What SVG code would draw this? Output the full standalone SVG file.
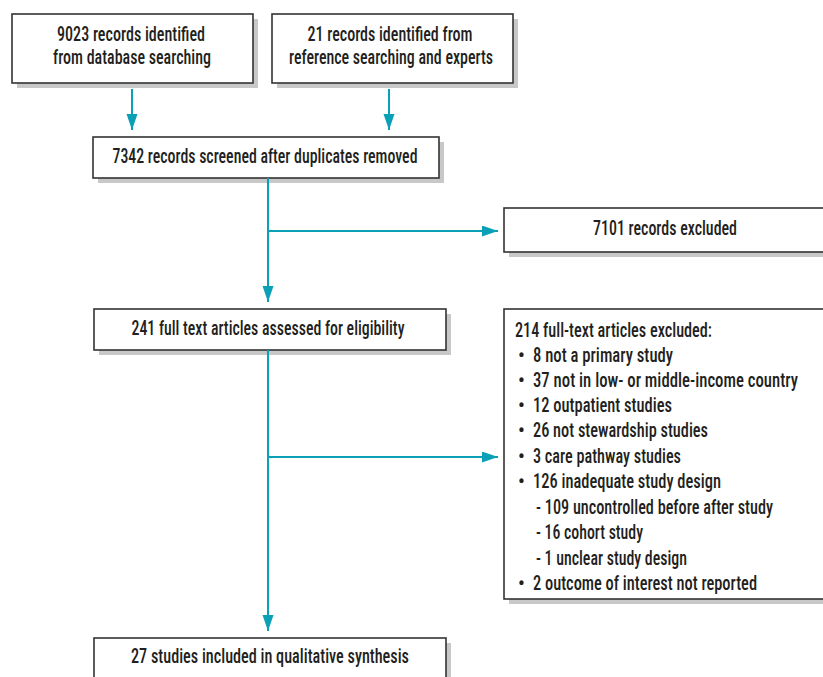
<svg xmlns="http://www.w3.org/2000/svg" width="823" height="677" viewBox="0 0 823 677">
<defs>
<style>
.box{fill:#ffffff;stroke:#333333;stroke-width:1.6}
.sh{fill:#c8c8c8}
.t{font-family:"Liberation Sans Narrow","Roboto Condensed","DejaVu Sans Condensed","Liberation Sans",sans-serif;font-weight:500;font-size:19.5px;fill:#231f20}
.c{text-anchor:middle}
.ln{stroke:#0aa0b6;stroke-width:2;fill:none}
</style>
<marker id="ah" markerUnits="userSpaceOnUse" markerWidth="17" markerHeight="12" refX="16" refY="5.5" orient="auto">
<path d="M0,0 L16,5.5 L0,11 Z" fill="#0aa0b6"/>
</marker>
</defs>
<rect width="823" height="677" fill="#ffffff"/>

<g id="n1">
<rect class="sh" x="17" y="19" width="241" height="69"/>
<rect class="box" x="12" y="14" width="241" height="69"/>
<text class="t c" x="131" y="41" textLength="148" lengthAdjust="spacingAndGlyphs">9023 records identified</text>
<text class="t c" x="132" y="64" textLength="158" lengthAdjust="spacingAndGlyphs">from database searching</text>
</g>

<g id="n2">
<rect class="sh" x="277" y="19" width="241" height="69"/>
<rect class="box" x="272" y="14" width="241" height="69"/>
<text class="t c" x="390" y="41" textLength="165" lengthAdjust="spacingAndGlyphs">21 records identified from</text>
<text class="t c" x="391" y="64" textLength="204" lengthAdjust="spacingAndGlyphs">reference searching and experts</text>
</g>

<g id="n3">
<rect class="sh" x="98" y="142" width="346" height="41"/>
<rect class="box" x="93" y="137" width="346" height="41"/>
<text class="t c" x="265" y="163" textLength="305" lengthAdjust="spacingAndGlyphs">7342 records screened after duplicates removed</text>
</g>

<g id="n4">
<rect class="sh" x="509" y="213" width="314" height="44"/>
<rect class="box" x="504" y="208" width="320" height="44"/>
<text class="t c" x="665" y="235" textLength="144" lengthAdjust="spacingAndGlyphs">7101 records excluded</text>
</g>

<g id="n5">
<rect class="sh" x="99" y="314" width="352" height="41"/>
<rect class="box" x="94" y="309" width="352" height="41"/>
<text class="t c" x="268" y="335" textLength="273" lengthAdjust="spacingAndGlyphs">241 full text articles assessed for eligibility</text>
</g>

<g id="n6">
<rect class="sh" x="509" y="314" width="314" height="290"/>
<rect class="box" x="504" y="309" width="320" height="290"/>
<text class="t" x="515" y="337" textLength="197" lengthAdjust="spacingAndGlyphs">214 full-text articles excluded:</text>
<text class="t" x="518" y="362">•</text>
<text class="t" x="533" y="362" textLength="140" lengthAdjust="spacingAndGlyphs">8 not a primary study</text>
<text class="t" x="518" y="387">•</text>
<text class="t" x="533" y="387" textLength="265" lengthAdjust="spacingAndGlyphs">37 not in low- or middle-income country</text>
<text class="t" x="518" y="412">•</text>
<text class="t" x="533" y="412" textLength="139" lengthAdjust="spacingAndGlyphs">12 outpatient studies</text>
<text class="t" x="518" y="437">•</text>
<text class="t" x="533" y="437" textLength="175" lengthAdjust="spacingAndGlyphs">26 not stewardship studies</text>
<text class="t" x="518" y="463">•</text>
<text class="t" x="533" y="463" textLength="148" lengthAdjust="spacingAndGlyphs">3 care pathway studies</text>
<text class="t" x="518" y="488">•</text>
<text class="t" x="533" y="488" textLength="188" lengthAdjust="spacingAndGlyphs">126 inadequate study design</text>
<text class="t" x="536" y="514" textLength="237" lengthAdjust="spacingAndGlyphs">- 109 uncontrolled before  after study</text>
<text class="t" x="536" y="539" textLength="107" lengthAdjust="spacingAndGlyphs">- 16 cohort study</text>
<text class="t" x="536" y="565" textLength="151" lengthAdjust="spacingAndGlyphs">- 1 unclear study design</text>
<text class="t" x="518" y="590">•</text>
<text class="t" x="533" y="590" textLength="224" lengthAdjust="spacingAndGlyphs">2 outcome of interest not reported</text>
</g>

<g id="n7">
<rect class="sh" x="99" y="643" width="352" height="34"/>
<rect class="box" x="94" y="638" width="352" height="50"/>
<text class="t c" x="270" y="663" textLength="278" lengthAdjust="spacingAndGlyphs">27 studies included in qualitative synthesis</text>
</g>

<g id="connectors">
<line class="ln" x1="132" y1="89" x2="132" y2="130" marker-end="url(#ah)"/>
<line class="ln" x1="389" y1="89" x2="389" y2="130" marker-end="url(#ah)"/>
<line class="ln" x1="268" y1="178" x2="268" y2="302" marker-end="url(#ah)"/>
<line class="ln" x1="268" y1="231" x2="498" y2="231" marker-end="url(#ah)"/>
<line class="ln" x1="268" y1="350" x2="268" y2="631" marker-end="url(#ah)"/>
<line class="ln" x1="268" y1="457" x2="498" y2="457" marker-end="url(#ah)"/>
</g>
</svg>
